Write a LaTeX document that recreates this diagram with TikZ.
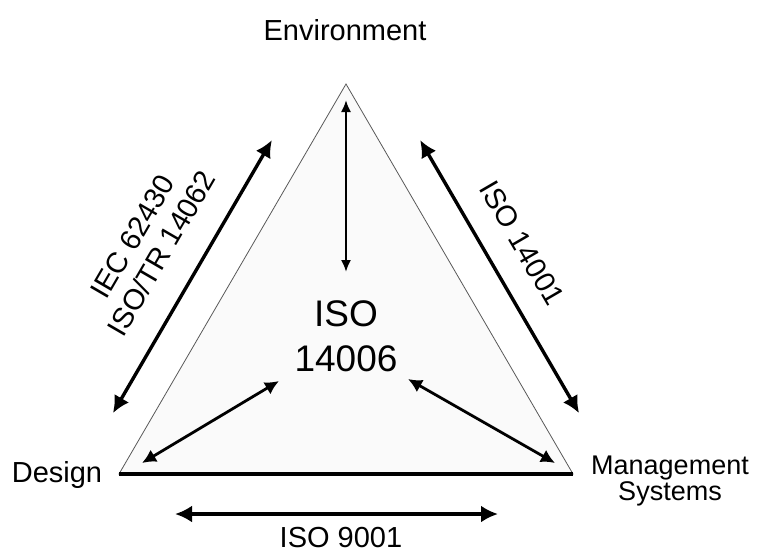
\documentclass[tikz,border=0pt]{standalone}
\usepackage{fontspec}
\setmainfont{Liberation Sans}
\usetikzlibrary{arrows.meta,calc,positioning}

\begin{document}
\begin{tikzpicture}[
    x=0.5pt, y=-0.5pt,
    >=Latex,
    label/.style={font=\fontsize{14.5}{16.5}\selectfont, inner sep=0pt, align=center},
    mgmt/.style={font=\fontsize{13.5}{11}\selectfont, inner sep=0pt, align=center},
    core/.style={font=\fontsize{18.5}{22.5}\selectfont, inner sep=0pt, align=center},
    side/.style={draw=black!65, line width=0.4pt},
    outer/.style={{Latex[length=8.5pt,width=8.5pt]}-{Latex[length=8.5pt,width=8.5pt]}, line width=1.7pt},
    inner/.style={{Latex[length=7pt,width=7pt]}-{Latex[length=7pt,width=7pt]}, line width=1.4pt},
    spoke/.style={{Latex[length=6pt,width=5pt]}-{Latex[length=6pt,width=5pt]}, line width=1pt}
]
    \useasboundingbox (0,0) rectangle (760,553);

    % Corners of the triangle
    \coordinate (top) at (346,84);
    \coordinate (left) at (119,474);
    \coordinate (right) at (573,474);

    \filldraw[side, fill=black!2] (top) -- (left) -- (right) -- cycle;
    \draw[line width=1.7pt] (left) -- (right);

    % Corner labels
    \node[label, anchor=base] (env) at (345,40) {Environment};
    \node[label, anchor=base] (design) at (57,482) {Design};
    \node[mgmt] (ms) at (670,481) {Management\\Systems};
    \node[core] (core) at (346,336) {ISO\\14006};

    % Outer arrows along the sides
    \coordinate (l1) at ($(top)!0.19!(left) + (-31,-18)$);
    \coordinate (l2) at ($(top)!0.89!(left) + (-31,-18)$);
    \coordinate (r1) at ($(top)!0.19!(right) + (31,-18)$);
    \coordinate (r2) at ($(top)!0.89!(right) + (31,-18)$);
    \coordinate (b1) at (175,514);
    \coordinate (b2) at (498,514);

    \draw[outer] (l1) -- (l2);
    \draw[outer] (r1) -- (r2);
    \draw[outer] (b1) -- (b2);

    \node[label, rotate=59.8] (iec) at (147,245) {IEC 62430\\ISO/TR 14062};
    \node[label, rotate=-59.8] (iso14001) at (522,243) {ISO 14001};
    \node[label, anchor=base] (iso9001) at (341,547) {ISO 9001};

    % Arrows from the corners to the centre
    \coordinate (v1) at ($(top)+(0,16)$);
    \coordinate (v2) at ($(core.north)+(0,-28)$);
    \coordinate (d1) at (142,463);
    \coordinate (d2) at (279,381);
    \coordinate (m1) at (555,463);
    \coordinate (m2) at (408,379);

    \draw[spoke] (v1) -- (v2);
    \draw[inner] (d1) -- (d2);
    \draw[inner] (m1) -- (m2);

\end{tikzpicture}
\end{document}
